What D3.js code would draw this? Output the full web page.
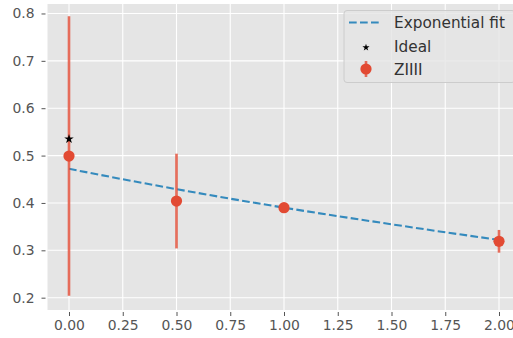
<!DOCTYPE html>
<html>
<head>
<meta charset="utf-8">
<script src="https://cdn.jsdelivr.net/npm/d3@7"></script>
<style>
  body { margin: 0; background: #fff; }
  svg { display: block; font-family: "DejaVu Sans", sans-serif; }
</style>
</head>
<body>
<svg id="chart" width="513" height="338"></svg>
<script>
// measured values
var pointX = [0, 0.5, 1, 2];
var pointY = [0.499, 0.404, 0.390, 0.319];
var pointErr = [0.295, 0.1, 0.004, 0.024];

var idealX = [0];
var idealY = [0.535];

var fitX = [0, 0.25, 0.5, 0.75, 1, 1.25, 1.5, 1.75, 2];
var fitY = [0.472, 0.450, 0.429, 0.409, 0.390, 0.372, 0.355, 0.338, 0.322];

var xTicks = [0, 0.25, 0.5, 0.75, 1, 1.25, 1.5, 1.75, 2];
var yTicks = [0.2, 0.3, 0.4, 0.5, 0.6, 0.7, 0.8];

var legendLabels = ["Exponential fit", "Ideal", "ZIIII"];

var red = "#E24A33", blue = "#348ABD";

var plot = { left: 47.5, right: 520.5, top: 4, bottom: 310 };

var svg = d3.select("#chart");

var x = d3.scaleLinear().domain([-0.1, 2.1]).range([plot.left, plot.right]);
var y = d3.scaleLinear().domain([0.174, 0.82]).range([plot.bottom, plot.top]);

// background
svg.append("rect")
    .attr("x", plot.left).attr("y", plot.top)
    .attr("width", plot.right - plot.left).attr("height", plot.bottom - plot.top)
    .attr("fill", "#E5E5E5");

// grid
svg.append("g").selectAll("line").data(xTicks).enter().append("line")
    .attr("x1", d => x(d)).attr("x2", d => x(d))
    .attr("y1", plot.top).attr("y2", plot.bottom)
    .attr("stroke", "#fff").attr("stroke-width", 1.1);
svg.append("g").selectAll("line").data(yTicks).enter().append("line")
    .attr("y1", d => y(d)).attr("y2", d => y(d))
    .attr("x1", plot.left).attr("x2", plot.right)
    .attr("stroke", "#fff").attr("stroke-width", 1.1);

// axes (ticks + labels)
var xAxis = svg.append("g")
    .attr("transform", "translate(0," + (plot.bottom + 2) + ")")
    .call(d3.axisBottom(x).tickValues(xTicks).tickFormat(d3.format(".2f")).tickSize(4).tickPadding(4));
var yAxis = svg.append("g")
    .attr("transform", "translate(" + (plot.left - 2) + ",0)")
    .call(d3.axisLeft(y).tickValues(yTicks).tickFormat(d3.format(".1f")).tickSize(4).tickPadding(7));

[xAxis, yAxis].forEach(function(ax) {
    ax.select(".domain").remove();
    ax.selectAll(".tick line").attr("stroke", "#555").attr("stroke-width", 1);
    ax.selectAll(".tick text")
        .attr("fill", "#555")
        .style("font-family", "DejaVu Sans")
        .style("font-size", "13.9px");
});

// fit line
var line = d3.line().x(d => x(d[0])).y(d => y(d[1]));
svg.append("path")
    .datum(fitX.map((d, i) => [d, fitY[i]]))
    .attr("d", line)
    .attr("fill", "none")
    .attr("stroke", blue)
    .attr("stroke-width", 2.1)
    .attr("stroke-dasharray", "7.7,3.3");

// error bars
var pts = pointX.map((d, i) => ({ x: d, y: pointY[i], e: pointErr[i] }));
svg.append("g").selectAll("line").data(pts).enter().append("line")
    .attr("x1", d => x(d.x)).attr("x2", d => x(d.x))
    .attr("y1", d => y(d.y - d.e)).attr("y2", d => y(d.y + d.e))
    .attr("stroke", red).attr("stroke-opacity", 0.8)
    .attr("stroke-width", 2.6);

svg.append("g").selectAll("circle").data(pts).enter().append("circle")
    .attr("cx", d => x(d.x)).attr("cy", d => y(d.y))
    .attr("r", 5.6)
    .attr("fill", red);

// ideal star
var star = d3.symbol().type(d3.symbolStar).size(28);
svg.append("g").selectAll("path").data(idealX).enter().append("path")
    .attr("d", star)
    .attr("transform", (d, i) => "translate(" + x(d) + "," + y(idealY[i]) + ")")
    .attr("fill", "#000");

// legend
var lg = svg.append("g");
lg.append("rect")
    .attr("x", 344).attr("y", 10.5)
    .attr("width", 171).attr("height", 72)
    .attr("rx", 3)
    .attr("fill", "#E5E5E5").attr("fill-opacity", 0.8)
    .attr("stroke", "#CCCCCC").attr("stroke-width", 1);

var rowY = [22.5, 46, 69];
lg.append("line")
    .attr("x1", 349).attr("x2", 382)
    .attr("y1", rowY[0]).attr("y2", rowY[0])
    .attr("stroke", blue).attr("stroke-width", 2.1)
    .attr("stroke-dasharray", "7.7,3.3");
lg.append("path")
    .attr("d", d3.symbol().type(d3.symbolStar).size(16))
    .attr("transform", "translate(366," + (rowY[1] + 1.5) + ")")
    .attr("fill", "#000");
lg.append("line")
    .attr("x1", 366).attr("x2", 366)
    .attr("y1", rowY[2] - 8).attr("y2", rowY[2] + 8)
    .attr("stroke", red).attr("stroke-opacity", 0.8).attr("stroke-width", 2.6);
lg.append("circle")
    .attr("cx", 366).attr("cy", rowY[2]).attr("r", 5.6).attr("fill", red);

lg.selectAll("text").data(legendLabels).enter().append("text")
    .attr("x", 394).attr("y", (d, i) => rowY[i])
    .attr("dy", "0.36em")
    .attr("fill", "#333")
    .style("font-size", "15.3px")
    .text(d => d);
</script>
</body>
</html>
